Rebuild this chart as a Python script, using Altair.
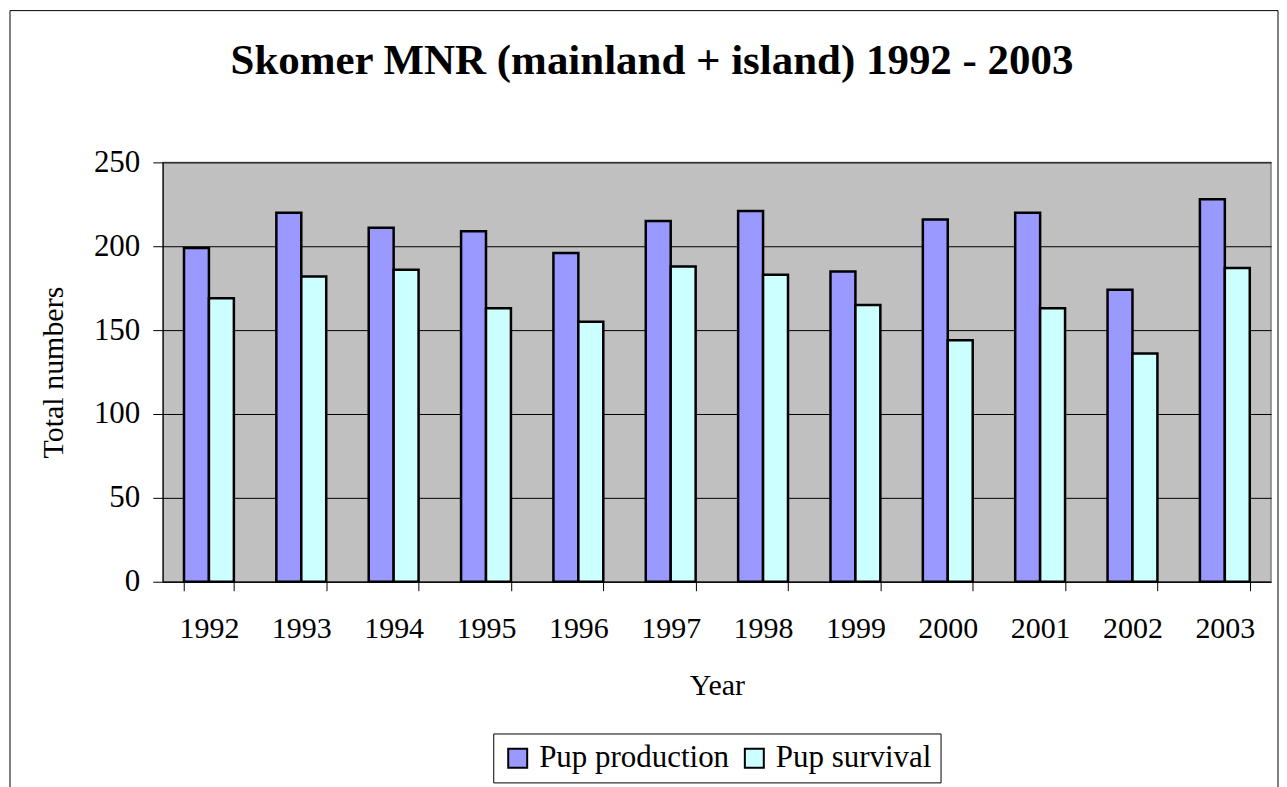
import altair as alt
import pandas as pd

years = ["1992", "1993", "1994", "1995", "1996", "1997", "1998", "1999", "2000", "2001", "2002", "2003"]
production = [199, 220, 211, 209, 196, 215, 221, 185, 216, 220, 174, 228]
survival = [169, 182, 186, 163, 155, 188, 183, 165, 144, 163, 136, 187]
series = ["Pup production", "Pup survival"]
colors = ["#9999FF", "#CCFFFF"]

rows = []
for y, p, s in zip(years, production, survival):
    rows.append({"Year": y, "Series": series[0], "Value": p})
    rows.append({"Year": y, "Series": series[1], "Value": s})
df = pd.DataFrame(rows)

FONT = "Liberation Serif"
FS = 30

bars = alt.Chart(df).mark_bar(stroke="black", strokeWidth=2.5).encode(
    x=alt.X("Year:N", sort=years,
            scale=alt.Scale(paddingInner=0.46, paddingOuter=0.23),
            axis=alt.Axis(title="Year", labelAngle=0, tickBand="extent",
                          tickSize=9, labelPadding=23, titlePadding=27,
                          domainColor="black", tickColor="black",
                          labelFont=FONT, labelFontSize=FS, titleFont=FONT,
                          titleFontSize=FS, titleFontWeight="normal",
                          labelColor="black", titleColor="black")),
    xOffset=alt.XOffset("Series:N", sort=series),
    y=alt.Y("Value:Q",
            scale=alt.Scale(domain=[0, 250]),
            axis=alt.Axis(title="Total numbers", values=[0, 50, 100, 150, 200, 250],
                          grid=True, gridColor="black", gridWidth=1,
                          tickSize=10, labelPadding=13, titlePadding=25,
                          domainColor="black", tickColor="black",
                          labelFont=FONT, labelFontSize=31, titleFont=FONT,
                          titleFontSize=FS, titleFontWeight="normal",
                          labelColor="black", titleColor="black")),
    color=alt.Color("Series:N", sort=series,
                    scale=alt.Scale(domain=series, range=colors),
                    legend=alt.Legend(title=None, orient="none", direction="horizontal",
                                      legendX=331, legendY=572,
                                      strokeColor="black", padding=9,
                                      symbolType="square", symbolSize=361,
                                      symbolStrokeColor="black", symbolStrokeWidth=2,
                                      labelFont=FONT, labelFontSize=31, labelColor="black",
                                      columnPadding=9, labelOffset=6, labelLimit=400)),
)

frame = alt.Chart(pd.DataFrame({"a": [0]})).mark_rect(
    fill="transparent", stroke="black", strokeWidth=1, clip=False
).encode(
    x=alt.value(-153), x2=alt.value(1117), y=alt.value(-152), y2=alt.value(640)
)

chart = alt.layer(frame, bars).properties(
    width=1110, height=420,
    title=alt.TitleParams("Skomer MNR (mainland + island) 1992 - 2003",
                          font=FONT, fontSize=43, fontWeight="bold", color="black",
                          anchor="middle", frame="bounds", offset=-73, dx=8),
    padding={"left": 1, "top": 1, "right": 0, "bottom": 0},
).configure_view(
    fill="#C0C0C0", stroke="#808080", strokeWidth=1.5
)

chart.save("out.html", embed_options={"renderer": "svg", "actions": False})
